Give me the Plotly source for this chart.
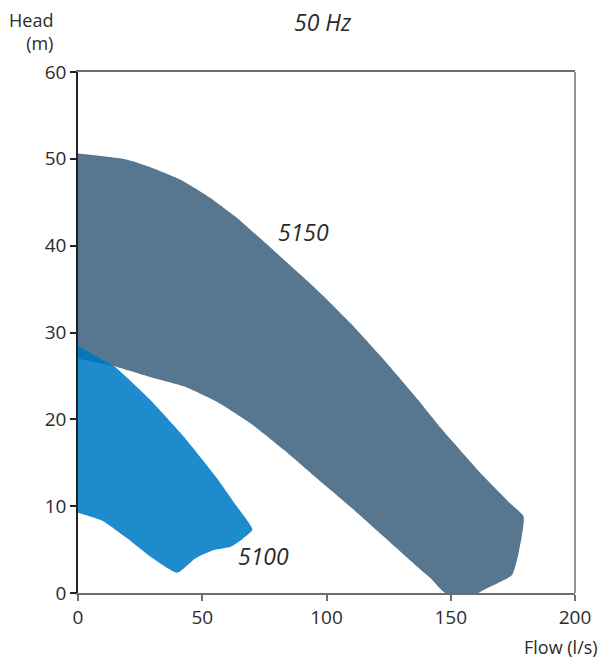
import plotly.graph_objects as go

# --- data ---
# 5150 operating range
p5150_top_x = [0, 19.8, 30.5, 41.3, 53.3, 64, 82.8, 96.2, 109.6, 123, 137, 146, 163, 174, 179.3]
p5150_top_y = [50.6, 49.9, 48.9, 47.6, 45.5, 43.2, 38.4, 34.9, 31.1, 26.9, 22.2, 19.0, 13.5, 10.3, 8.8]
p5150_right_x = [177.3, 174.7, 170, 163.2, 161, 147.8]
p5150_right_y = [4.57, 2.07, 1.3, 0.35, 0, 0]
p5150_bot_x = [141.9, 136.5, 123, 109.6, 96.2, 82.8, 69.4, 56, 42.6, 29.2, 14.5, 0]
p5150_bot_y = [1.7, 3.03, 6.5, 9.94, 13.2, 16.5, 19.55, 22.0, 23.8, 24.85, 26.1, 27.0]

# 5100 operating range
p5100_top_x = [0, 14.5, 29.2, 42.6, 56, 64, 70.2]
p5100_top_y = [28.45, 26.1, 22.2, 18.0, 13.2, 9.94, 7.3]
p5100_bot_x = [66.1, 61.4, 54.7, 47.3, 40, 29.2, 19.8, 9.8, 0]
p5100_bot_y = [6.2, 5.33, 4.95, 4.0, 2.34, 4.18, 6.3, 8.33, 9.25]

x_ticks = [0, 50, 100, 150, 200]
y_ticks = [0, 10, 20, 30, 40, 50, 60]

labels = ["5150", "5100"]
label_x = [90.7, 74.8]
label_y = [41.6, 4.3]

C5150 = "#56778f"
C5100 = "#1e8bcd"
COVER = "#0677b9"
FONT = "Open Sans"
TXT = "#2b2b2b"

fig = go.Figure()

x5150 = p5150_top_x + p5150_right_x + p5150_bot_x
y5150 = p5150_top_y + p5150_right_y + p5150_bot_y
fig.add_trace(go.Scatter(x=x5150, y=y5150, fill="toself", fillcolor=C5150,
                         mode="lines", line=dict(width=0, color=C5150, shape="spline", smoothing=0.5),
                         hoverinfo="skip", showlegend=False))

x5100 = p5100_top_x + p5100_bot_x
y5100 = p5100_top_y + p5100_bot_y
fig.add_trace(go.Scatter(x=x5100, y=y5100, fill="toself", fillcolor=C5100,
                         mode="lines", line=dict(width=0, color=C5100, shape="spline", smoothing=0.5),
                         hoverinfo="skip", showlegend=False))

# overlap of the two ranges (left of their crossing)
cross = 14.5
ov_top = [(x, y) for x, y in zip(p5100_top_x, p5100_top_y) if x <= cross]
ov_bot = [(x, y) for x, y in zip(p5150_bot_x, p5150_bot_y) if x <= cross]
ov = ov_top + ov_bot
fig.add_trace(go.Scatter(x=[p[0] for p in ov], y=[p[1] for p in ov], fill="toself",
                         fillcolor=COVER, mode="lines", line=dict(width=0, color=COVER),
                         hoverinfo="skip", showlegend=False))

for t, lx, ly in zip(labels, label_x, label_y):
    fig.add_annotation(x=lx, y=ly, xref="x", yref="y", text="<i>" + t + "</i>",
                       showarrow=False, font=dict(family=FONT, size=23, color=TXT))

fig.add_annotation(x=0.492, y=1.096, xref="paper", yref="paper", text="<i>50 Hz</i>",
                   xanchor="center", yanchor="middle",
                   showarrow=False, font=dict(family=FONT, size=23, color=TXT))
fig.add_annotation(x=-0.046, y=1.077, xref="paper", yref="paper", text="Head<br>(m)",
                   xanchor="right", yanchor="middle", align="right", showarrow=False,
                   font=dict(family=FONT, size=18, color=TXT))
fig.add_annotation(x=1.051, y=-0.104, xref="paper", yref="paper", text="Flow (l/s)",
                   xanchor="right", yanchor="middle", showarrow=False,
                   font=dict(family=FONT, size=18, color=TXT))

fig.add_shape(type="line", xref="paper", yref="paper", x0=1, x1=1, y0=0, y1=1,
              line=dict(color="#6f6f6f", width=1.5))

fig.update_layout(
    width=602, height=659,
    margin=dict(l=77.5, r=27.4, t=72, b=66),
    paper_bgcolor="white", plot_bgcolor="white",
    font=dict(family=FONT, color=TXT),
    xaxis=dict(range=[0, 200], tickvals=x_ticks, showgrid=False, zeroline=False,
               showline=True, linecolor="#6f6f6f", linewidth=1.5, mirror=True,
               ticks="outside", ticklen=6, tickwidth=1.5, tickcolor="#6f6f6f",
               tickfont=dict(family=FONT, size=19, color=TXT), fixedrange=True),
    yaxis=dict(range=[0, 60], tickvals=y_ticks, showgrid=False, zeroline=False,
               showline=True, linecolor="#222222", linewidth=1.5,
               ticks="outside", ticklen=6, tickwidth=1.5, tickcolor="#222222",
               tickfont=dict(family=FONT, size=19, color=TXT), fixedrange=True),
)

fig.write_html("out.html", config={"displayModeBar": False},
               post_script="document.body.style.margin='0';")
